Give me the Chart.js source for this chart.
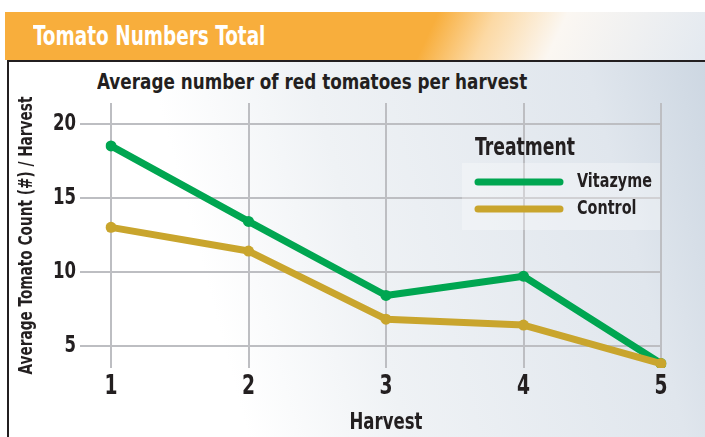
<!DOCTYPE html>
<html>
<head>
<meta charset="utf-8">
<title>Tomato Numbers Total</title>
<script src="https://cdn.jsdelivr.net/npm/chart.js@4.4.1/dist/chart.umd.min.js"></script>
<style>
  html, body { margin: 0; padding: 0; background: #fff; }
  #wrap { position: relative; width: 705px; height: 437px; overflow: hidden;
          font-family: 'DejaVu Sans Condensed', 'DejaVu Sans', sans-serif; }
  #header { position: absolute; left: 5px; top: 12px; width: 700px; height: 48px;
            background: linear-gradient(115deg, #f8ae3c 0%, #f8ae3c 60%, #fcd9a4 68%, #fbf7f2 78%, #e3e9f0 100%); }
  #header span { position: absolute; left: 28px; top: 7px; color: #fff; font-weight: bold;
                 font-size: 27px; line-height: 34px; white-space: nowrap;
                 transform: scaleX(0.76); transform-origin: 0 50%; }
  #panel { position: absolute; left: 7px; top: 60px; right: 0; bottom: 0;
           border-left: 2px solid #231f20; border-top: 2px solid #231f20;
           background: linear-gradient(75deg, #ffffff 0%, #ffffff 30%, #eff2f5 50%, #e0e6ed 85%, #cdd7e2 100%); }
  #title { position: absolute; left: 97px; top: 68px; color: #231f20; font-weight: bold;
           font-size: 22px; line-height: 28px; white-space: nowrap;
           transform: scaleX(0.85); transform-origin: 0 50%; }
  #chart { position: absolute; left: 0; top: 0; }
</style>
</head>
<body>
<div id="wrap">
  <div id="header"><span>Tomato Numbers Total</span></div>
  <div id="panel"></div>
  <div id="title">Average number of red tomatoes per harvest</div>
  <canvas id="chart" width="705" height="437"></canvas>
</div>
<script>
// data
var harvests = ["1", "2", "3", "4", "5"];
var vitazyme = [18.5, 13.4, 8.4, 9.7, 3.8];
var control = [13.0, 11.4, 6.8, 6.4, 3.8];
var yTickValues = [5, 10, 15, 20];
var legendTitle = "Treatment";

!function() {
    "use strict";

    var FONT = "'DejaVu Sans Condensed', 'DejaVu Sans', sans-serif";
    var INK = "#231f20";
    var GRID = "#bdbec2";
    var SQUEEZE = 0.8;

    var ctx = document.getElementById("chart").getContext("2d");

    // the original type is a bold condensed face, so squeeze canvas text about its anchor
    var fillText = ctx.fillText;
    ctx.fillText = function(text, x, y, maxWidth) {
        this.save();
        this.translate(x, y);
        this.scale(SQUEEZE, 1);
        fillText.call(this, text, 0, 0);
        this.restore();
    };

    // legend drawn inside the plot, with the line swatches
    var treatmentLegend = {
        id: 'treatmentLegend',
        afterDraw: function(chart) {
            var c = chart.ctx;
            var sets = chart.data.datasets;
            c.save();
            c.fillStyle = "rgba(255,255,255,0.3)";
            c.fillRect(462, 163, 198, 67);
            c.fillStyle = INK;
            c.font = "bold 24px " + FONT;
            c.textAlign = "left";
            c.textBaseline = "alphabetic";
            c.fillText(legendTitle, 475, 155);
            c.font = "bold 20px " + FONT;
            c.textBaseline = "middle";
            for (var i = 0; i < sets.length; i++) {
                var y = 182 + i * 27;
                c.strokeStyle = sets[i].borderColor;
                c.lineWidth = 7;
                c.lineCap = "round";
                c.beginPath();
                c.moveTo(478, y);
                c.lineTo(560, y);
                c.stroke();
                c.fillStyle = INK;
                c.fillText(sets[i].label, 577, y);
            }
            c.restore();
        }
    };

    new Chart(ctx, {
        type: 'line',
        data: {
            labels: harvests,
            datasets: [
                {
                    label: "Vitazyme",
                    data: vitazyme,
                    borderColor: "#00a651",
                    backgroundColor: "#00a651",
                    borderWidth: 7,
                    pointRadius: 5.5,
                    pointBorderWidth: 0,
                    borderJoinStyle: 'round',
                    order: 1
                },
                {
                    label: "Control",
                    data: control,
                    borderColor: "#c9a52d",
                    backgroundColor: "#c9a52d",
                    borderWidth: 7,
                    pointRadius: 5.5,
                    pointBorderWidth: 0,
                    borderJoinStyle: 'round',
                    order: 0
                }]
        },
        options: {
            responsive: false,
            animation: false,
            devicePixelRatio: 1,
            layout: { padding: { top: 103, right: 44, bottom: 0, left: 0 } },
            plugins: {
                legend: { display: false },
                tooltip: { enabled: false }
            },
            scales: {
                x: {
                    type: 'category',
                    offset: false,
                    border: { display: false },
                    grid: { color: GRID, lineWidth: 2, drawTicks: false, offset: false },
                    ticks: { color: INK, padding: 4, font: { family: FONT, size: 26, weight: 'bold' } },
                    title: {
                        display: true, text: "Harvest", color: INK,
                        padding: { top: 2, bottom: 0 },
                        font: { family: FONT, size: 23, weight: 'bold' }
                    },
                    afterFit: function(scale) { scale.height = 69; }
                },
                y: {
                    min: 3.5,
                    max: 21.4,
                    border: { display: false },
                    grid: { color: GRID, lineWidth: 2, tickLength: 31 },
                    ticks: { color: INK, padding: 4, font: { family: FONT, size: 23, weight: 'bold' } },
                    afterBuildTicks: function(scale) {
                        scale.ticks = yTickValues.map(function(v) { return { value: v }; });
                    },
                    title: {
                        display: true, text: "Average Tomato Count (#) / Harvest", color: INK,
                        padding: { top: 16, bottom: 0 },
                        font: { family: FONT, size: 19, weight: 'bold' }
                    },
                    afterFit: function(scale) { scale.width = 111; }
                }
            }
        },
        plugins: [treatmentLegend]
    });
}();
</script>
</body>
</html>
